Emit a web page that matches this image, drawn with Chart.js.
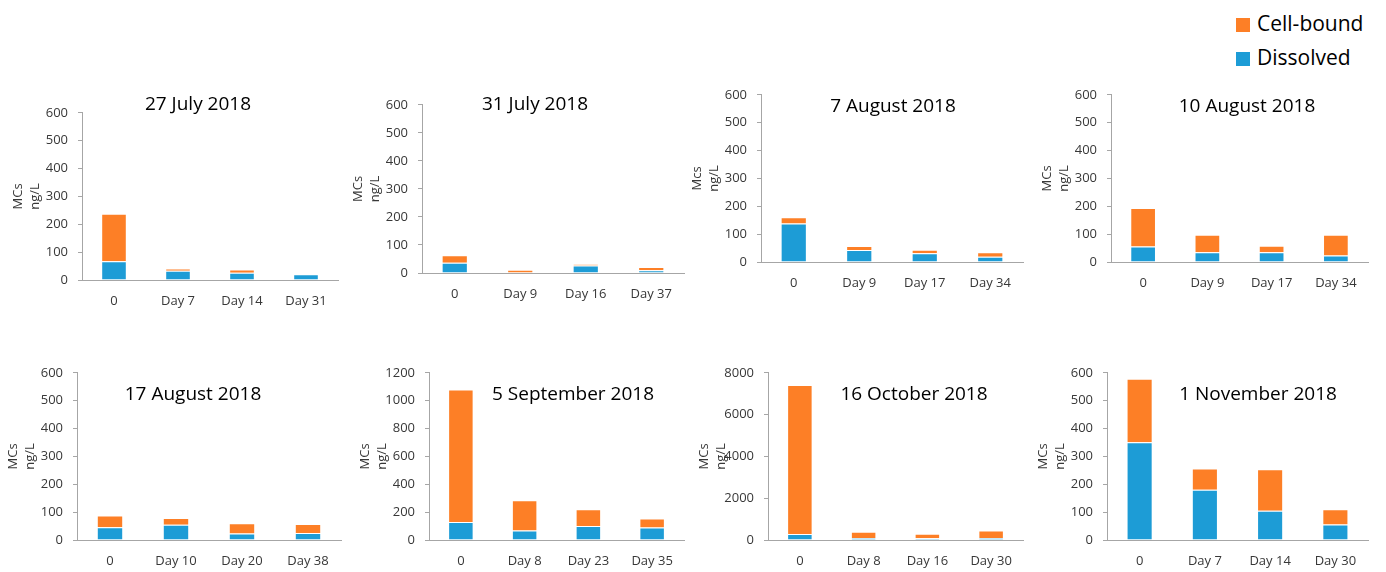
<!DOCTYPE html>
<html lang="en">
<head>
  <meta charset="UTF-8" />
  <title>MCs dissolved vs cell-bound</title>
  <style>
    body {
      margin: 0;
      background: #fff;
      font-family: 'Open Sans', sans-serif;
    }
    .page {
      position: relative;
      width: 1386px;
      height: 572px;
      overflow: hidden;
    }
    .page canvas {
      position: absolute;
    }
    .legend {
      position: absolute;
      left: 1236px;
      top: 7px;
      font-size: 21px;
      color: #000;
    }
    .legend div {
      height: 34px;
      line-height: 32px;
      white-space: nowrap;
    }
    .legend span {
      display: inline-block;
      width: 14px;
      height: 14px;
      margin-right: 7px;
      vertical-align: -1px;
    }
  </style>
</head>
<body>
  <div class="page" id="page">
    <div class="legend">
      <div><span style="background:#fd7f26"></span>Cell-bound</div>
      <div><span style="background:#1d9cd6"></span>Dissolved</div>
    </div>
  </div>

  <script src="https://cdn.jsdelivr.net/npm/chart.js"></script>
  <script>
    // data (ng/L)
    const titles = ['27 July 2018', '31 July 2018', '7 August 2018', '10 August 2018',
                    '17 August 2018', '5 September 2018', '16 October 2018', '1 November 2018'];
    const dayLabels = [
      ['0', 'Day 7', 'Day 14', 'Day 31'],
      ['0', 'Day 9', 'Day 16', 'Day 37'],
      ['0', 'Day 9', 'Day 17', 'Day 34'],
      ['0', 'Day 9', 'Day 17', 'Day 34'],
      ['0', 'Day 10', 'Day 20', 'Day 38'],
      ['0', 'Day 8', 'Day 23', 'Day 35'],
      ['0', 'Day 8', 'Day 16', 'Day 30'],
      ['0', 'Day 7', 'Day 14', 'Day 30']
    ];
    const dissolved = [
      [67, 33, 26, 21],
      [37, 2, 27, 10],
      [138, 43, 31, 19],
      [56, 35, 35, 23],
      [46, 55, 23, 25],
      [129, 69, 100, 90],
      [286, 95, 79, 95],
      [351, 180, 105, 56]
    ];
    const cellBound = [
      [171, 8, 12, 0],
      [26, 10, 4, 11],
      [23, 14, 13, 16],
      [138, 63, 23, 75],
      [42, 24, 37, 32],
      [952, 217, 121, 65],
      [7127, 302, 223, 365],
      [228, 77, 149, 54]
    ];
    const yMax = [600, 600, 600, 600, 600, 1200, 8000, 600];
    const yStep = [100, 100, 100, 100, 100, 200, 2000, 100];

    // layout: plot area [left, top, right, bottom] and title offset from plot top-left
    const plotBox = [
      [82, 113, 338, 280], [422, 105, 684, 273], [761, 95, 1023, 262], [1111, 95, 1368, 262],
      [77, 373, 341, 540], [429, 373, 684, 540], [768, 373, 1023, 540], [1107, 373, 1368, 540]
    ];
    const titleAt = [
      [116, -8], [113, 0], [132, 12], [136, 12],
      [116, 22], [144, 22], [146, 22], [151, 22]
    ];

    // chart.js reserves half a tick label + tick padding above the plot (~18px)
    const Y_W = 72, TOP = 18, PAD_R = 6, X_H = 34;
    const axisGrey = '#a6a6a6';

    const titlePlugin = {
      id: 'inTitle',
      afterDraw(chart, args, opts) {
        const {ctx, chartArea} = chart;
        ctx.save();
        ctx.font = '19px "Open Sans"';
        ctx.fillStyle = '#000';
        ctx.textAlign = 'center';
        ctx.textBaseline = 'middle';
        ctx.fillText(opts.text, chartArea.left + opts.dx, chartArea.top + opts.dy);
        ctx.restore();
      }
    };

    const page = document.getElementById('page');

    titles.forEach((t, i) => {
      const [l, tp, r, b] = plotBox[i];
      const cv = document.createElement('canvas');
      const w = Y_W + (r - l) + PAD_R;
      const h = TOP + (b - tp) + X_H;
      cv.width = w;
      cv.height = h;
      cv.style.left = (l - Y_W) + 'px';
      cv.style.top = (tp - TOP) + 'px';
      cv.style.width = w + 'px';
      cv.style.height = h + 'px';
      page.appendChild(cv);

      new Chart(cv.getContext('2d'), {
        type: 'bar',
        data: {
          labels: dayLabels[i],
          datasets: [
            {
              label: 'Dissolved',
              data: dissolved[i],
              backgroundColor: '#1d9cd6',
              borderColor: 'rgba(255,255,255,0.45)',
              borderWidth: 1
            },
            {
              label: 'Cell-bound',
              data: cellBound[i],
              backgroundColor: '#fd7f26',
              borderColor: 'rgba(255,255,255,0.45)',
              borderWidth: 1
            }
          ]
        },
        plugins: [titlePlugin],
        options: {
          responsive: false,
          animation: false,
          barPercentage: 0.4,
          categoryPercentage: 1,
          layout: { padding: { top: 0, right: PAD_R, left: 0, bottom: 0 } },
          plugins: {
            legend: { display: false },
            tooltip: { enabled: false },
            inTitle: { text: t, dx: titleAt[i][0], dy: titleAt[i][1] }
          },
          scales: {
            x: {
              stacked: true,
              grid: { display: false },
              border: { display: true, color: axisGrey, width: 1 },
              ticks: { color: '#383838', font: { family: 'Open Sans', size: 13 }, padding: 5, maxRotation: 0 },
              afterFit(s) { s.height = X_H; }
            },
            y: {
              stacked: true,
              min: 0,
              max: yMax[i],
              grid: { drawOnChartArea: false, drawTicks: true, tickLength: 4, color: axisGrey },
              border: { display: true, color: axisGrey, width: 1 },
              ticks: {
                stepSize: yStep[i],
                color: '#383838',
                font: { family: 'Open Sans', size: 13 },
                padding: 10,
                callback: v => String(v)
              },
              title: {
                display: true,
                text: [i === 2 ? 'Mcs' : 'MCs', 'ng/L'],
                color: '#383838',
                font: { family: 'Open Sans', size: 13, lineHeight: 1.3 },
                padding: 0
              },
              afterFit(s) { s.width = Y_W; }
            }
          }
        }
      });
    });
  </script>
</body>
</html>
